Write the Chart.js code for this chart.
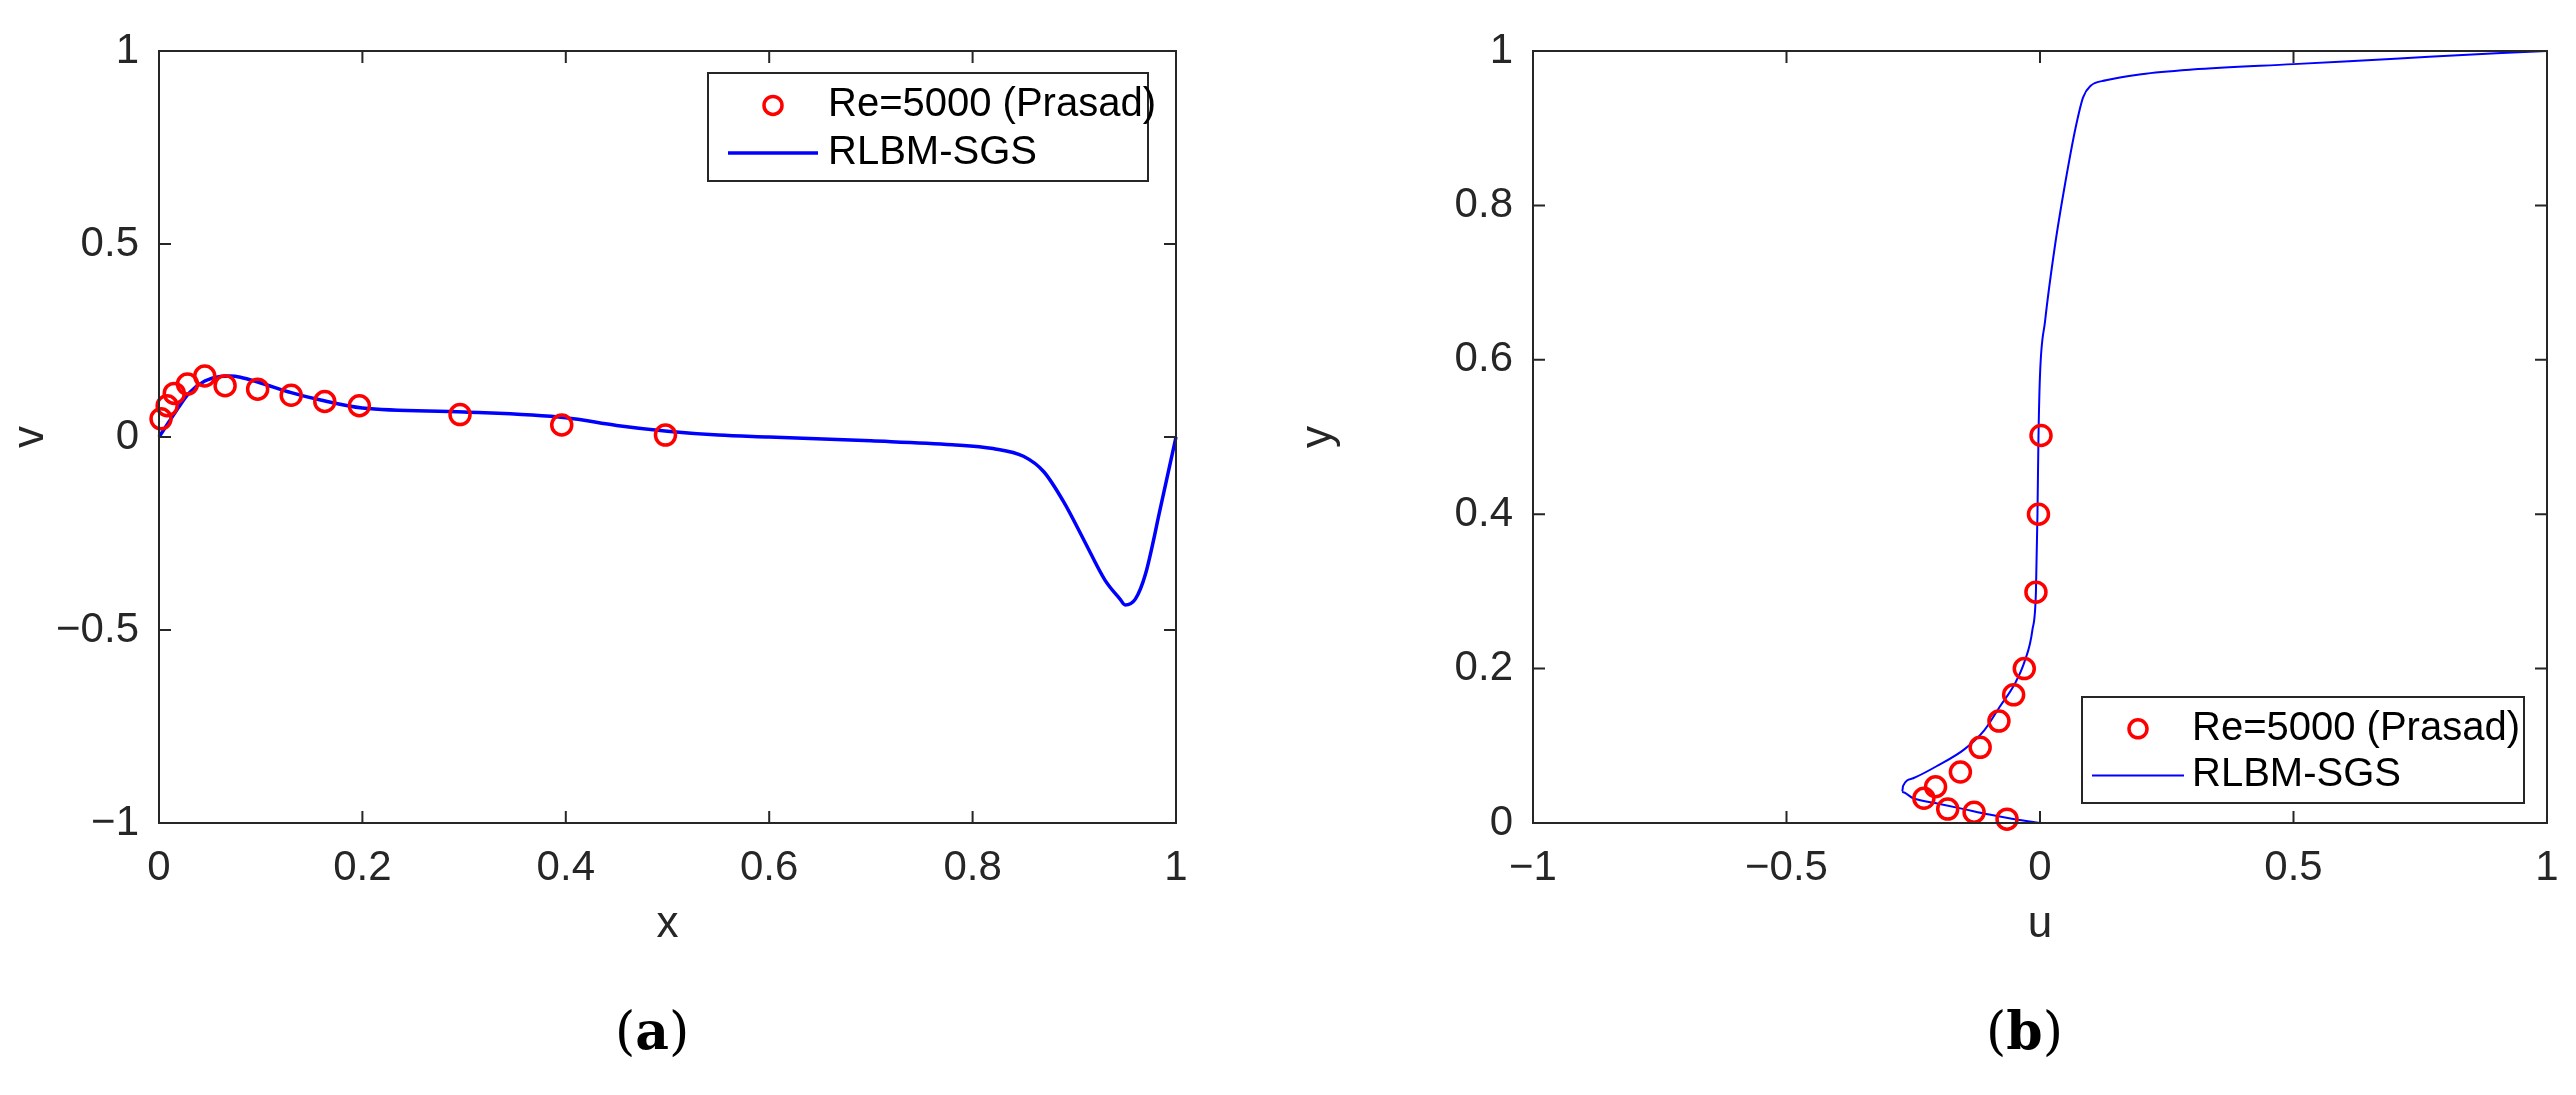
<!DOCTYPE html>
<html><head><meta charset="utf-8">
<script src="https://cdn.jsdelivr.net/npm/chart.js@4/dist/chart.umd.min.js"></script>
<style>
body{margin:0;background:#fff;width:2576px;height:1095px;position:relative;overflow:hidden}
.c{position:absolute;top:0;width:1288px;height:1095px}
.lab{position:absolute;top:1000px;font-family:"DejaVu Serif","Liberation Serif",serif;font-size:52px;color:#000}
</style></head><body>
<div class="c" style="left:0"><canvas id="a"></canvas></div>
<div class="c" style="left:1288px"><canvas id="b"></canvas></div>
<div class="lab" style="left:615px">(<b>a</b>)</div>
<div class="lab" style="left:1986px">(<b>b</b>)</div>
<script>
const expALabel="Re=5000 (Prasad)", simLabel="RLBM-SGS";
const expA_x=[0.002,0.008,0.015,0.028,0.045,0.065,0.097,0.13,0.163,0.197,0.296,0.396,0.498];
const expA_v=[0.047,0.081,0.113,0.137,0.158,0.133,0.124,0.108,0.092,0.081,0.058,0.031,0.005];
const simA_x=[0,0.01,0.02,0.03,0.045,0.06,0.07,0.08,0.1,0.13,0.16,0.2,0.3,0.4,0.45,0.5,0.55,0.6,0.7,0.78,0.82,0.85,0.87,0.89,0.91,0.93,0.945,0.95,0.96,0.97,0.985,1];
const simA_v=[0,0.04,0.08,0.115,0.145,0.157,0.158,0.155,0.14,0.115,0.095,0.075,0.065,0.05,0.03,0.015,0.005,0,-0.01,-0.02,-0.03,-0.05,-0.09,-0.17,-0.27,-0.37,-0.42,-0.435,-0.42,-0.355,-0.18,0];
const expB_u=[0.002,-0.003,-0.008,-0.031,-0.052,-0.081,-0.118,-0.157,-0.206,-0.229,-0.182,-0.13,-0.065];
const expB_y=[0.502,0.4,0.299,0.2,0.166,0.132,0.098,0.066,0.047,0.032,0.018,0.014,0.005];
const simB_u=[0,-0.05,-0.1,-0.15,-0.2,-0.25,-0.272,-0.27,-0.25,-0.2,-0.15,-0.11,-0.08,-0.05,-0.03,-0.015,-0.008,-0.005,-0.003,0,0.01,0.03,0.05,0.07,0.085,0.1,0.13,0.2,0.3,0.5,0.7,0.9,1];
const simB_y=[0,0.005,0.011,0.018,0.025,0.032,0.04,0.048,0.058,0.075,0.095,0.12,0.15,0.18,0.21,0.25,0.3,0.4,0.5,0.58,0.65,0.75,0.83,0.9,0.94,0.955,0.962,0.97,0.976,0.983,0.99,0.997,1];
const ticksA_x=[0,0.2,0.4,0.6,0.8,1], ticksA_y=[-1,-0.5,0,0.5,1];
const ticksB_x=[-1,-0.5,0,0.5,1], ticksB_y=[0,0.2,0.4,0.6,0.8,1];

const FONT='"Liberation Sans", Arial, sans-serif';
const TC='#262626';
function fmt(v){return v<0?'\u2212'+String(-v):String(v);}
function mk(xs,ys){return xs.map((x,i)=>({x:x,y:ys[i]}));}

const frame={id:'frame',afterDraw(ch,args,o){
  const c=ch.ctx,a=ch.chartArea;c.save();c.strokeStyle=TC;c.lineWidth=2;
  c.strokeRect(a.left,a.top,a.right-a.left,a.bottom-a.top);
  const L=12;
  o.xt.forEach(t=>{const p=ch.scales.x.getPixelForValue(t);c.beginPath();c.moveTo(p,a.bottom);c.lineTo(p,a.bottom-L);c.moveTo(p,a.top);c.lineTo(p,a.top+L);c.stroke();});
  o.yt.forEach(t=>{const p=ch.scales.y.getPixelForValue(t);c.beginPath();c.moveTo(a.left,p);c.lineTo(a.left+L,p);c.moveTo(a.right,p);c.lineTo(a.right-L,p);c.stroke();});
  const g=o.leg;c.fillStyle='#fff';c.fillRect(g.x,g.y,g.w,g.h);c.strokeStyle=TC;c.lineWidth=2;c.strokeRect(g.x,g.y,g.w,g.h);
  c.font='40px '+FONT;c.fillStyle='#000';c.textBaseline='middle';
  const r1=g.y+g.h*0.3,r2=g.y+g.h*0.74;
  c.strokeStyle='#ff0000';c.lineWidth=3.5;c.beginPath();c.arc(g.x+g.sx+g.sl/2,r1,9,0,2*Math.PI);c.stroke();
  c.strokeStyle='#0000ff';c.lineWidth=o.lw;c.beginPath();c.moveTo(g.x+g.sx,r2);c.lineTo(g.x+g.sx+g.sl,r2);c.stroke();
  c.fillText(expALabel,g.x+g.tx,r1);c.fillText(simLabel,g.x+g.tx,r2);
  c.restore();}};

function make(id,exp,sim,xr,yr,xt,yt,xtitle,ytitle,pad,yw,leg,lw){
  return new Chart(document.getElementById(id),{type:'scatter',
   data:{datasets:[
    {label:expALabel,data:exp,showLine:false,pointStyle:'circle',pointRadius:10,pointBorderWidth:3.5,borderColor:'#ff0000',backgroundColor:'rgba(0,0,0,0)'},
    {label:simLabel,data:sim,showLine:true,pointRadius:0,borderColor:'#0000ff',borderWidth:lw,tension:0.3,cubicInterpolationMode:'monotone'}]},
   options:{responsive:false,animation:false,clip:false,
    layout:{padding:pad},
    plugins:{legend:{display:false},tooltip:{enabled:false},frame:{xt:xt,yt:yt,leg:leg,lw:lw}},
    scales:{
     x:{type:'linear',min:xr[0],max:xr[1],afterBuildTicks(s){s.ticks=xt.map(v=>({value:v}));},
        grid:{display:false},border:{display:false},
        ticks:{color:TC,font:{family:FONT,size:42},padding:12,maxRotation:0,callback:v=>fmt(v)},
        title:{display:true,text:xtitle,color:TC,font:{family:FONT,size:44},padding:{top:14}},
        afterFit(s){s.height=pad.xh;}},
     y:{type:'linear',min:yr[0],max:yr[1],afterBuildTicks(s){s.ticks=yt.map(v=>({value:v}));},
        grid:{display:false},border:{display:false},
        ticks:{color:TC,font:{family:FONT,size:42},padding:12,callback:v=>fmt(v)},
        title:{display:true,text:ytitle,color:TC,font:{family:FONT,size:44},padding:{bottom:8}},
        afterFit(s){s.width=yw;}}}},
   plugins:[frame]});
}
function size(id){const c=document.getElementById(id);c.width=1288;c.height=1095;}
size('a');size('b');
make('a',mk(expA_x,expA_v),mk(simA_x,simA_v),[0,1],[-1,1],ticksA_x,ticksA_y,'x','v',
 {left:0,top:51,right:112,bottom:140,xh:132},159,{x:708,y:73,w:440,h:108,sx:20,sl:90,tx:120},3.5);
make('b',mk(expB_u,expB_y),mk(simB_u,simB_y),[-1,1],[0,1],ticksB_x,ticksB_y,'u','y',
 {left:0,top:51,right:29,bottom:140,xh:132},245,{x:794,y:697,w:442,h:106,sx:10,sl:92,tx:110},2);
</script></body></html>
